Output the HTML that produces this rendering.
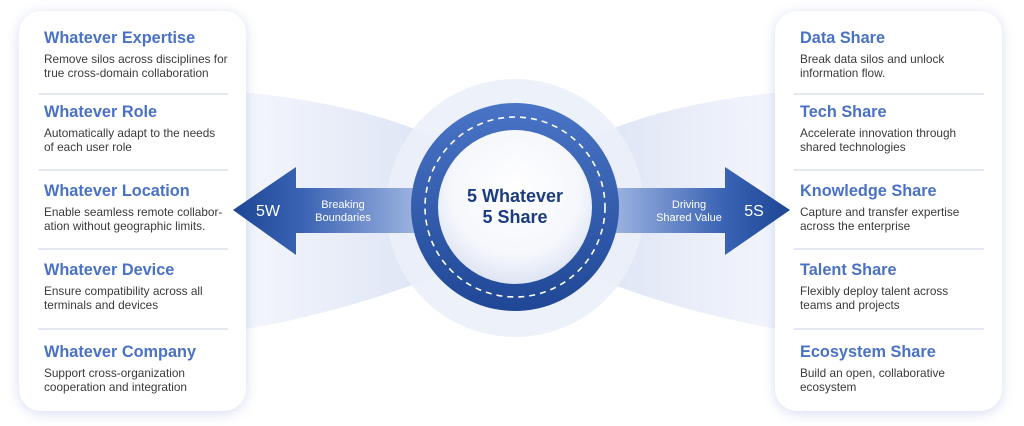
<!DOCTYPE html>
<html><head><meta charset="utf-8"><style>
html,body{margin:0;padding:0;background:#fff;}
body{width:1024px;height:426px;position:relative;overflow:hidden;font-family:"Liberation Sans",sans-serif;}
svg{position:absolute;left:0;top:0;}
.card{position:absolute;top:11px;width:227px;height:400px;background:#fff;border-radius:22px;box-shadow:0 2px 12px rgba(90,120,200,0.25);}
.it{position:absolute;left:25px;width:195px;}
.t{color:#4a72c4;font-weight:bold;font-size:16.3px;line-height:18px;white-space:nowrap;}
.d{color:#3a3a3a;font-size:11.8px;line-height:13.5px;margin-top:6px;white-space:nowrap;}
.hr{position:absolute;left:19px;width:190px;height:2px;background:#e3e8f3;}
</style></head><body>
<svg width="1024" height="426" viewBox="0 0 1024 426">
<defs>
<linearGradient id="bandL" x1="0" x2="1" y1="0" y2="0"><stop offset="0" stop-color="#f4f6fc"/><stop offset="1" stop-color="#dce4f4"/></linearGradient>
<linearGradient id="bandR" x1="1" x2="0" y1="0" y2="0"><stop offset="0" stop-color="#f4f6fc"/><stop offset="1" stop-color="#dce4f4"/></linearGradient>
</defs>
<path d="M240 92 C330 100 400 120 440 140 L440 275 C400 290 330 315 240 330 Z" fill="url(#bandL)"/>
<path d="M784 92 C694 100 624 120 590 140 L590 275 C624 290 694 315 784 330 Z" fill="url(#bandR)"/>
<circle cx="515" cy="208" r="129" fill="#ebf0fa" opacity="0.9"/>
</svg>
<div class="card" style="left:19px">
<div class="it" style="top:18px"><div class="t">Whatever Expertise</div><div class="d">Remove silos across disciplines for<br>true cross-domain collaboration</div></div>
<div class="hr" style="top:82px"></div>
<div class="it" style="top:92px"><div class="t">Whatever Role</div><div class="d">Automatically adapt to the needs<br>of each user role</div></div>
<div class="hr" style="top:158px"></div>
<div class="it" style="top:171px"><div class="t">Whatever Location</div><div class="d">Enable seamless remote collabor-<br>ation without geographic limits.</div></div>
<div class="hr" style="top:237px"></div>
<div class="it" style="top:250px"><div class="t">Whatever Device</div><div class="d">Ensure compatibility across all<br>terminals and devices</div></div>
<div class="hr" style="top:317px"></div>
<div class="it" style="top:332px"><div class="t">Whatever Company</div><div class="d">Support cross-organization<br>cooperation and integration</div></div>
</div>
<div class="card" style="left:775px">
<div class="it" style="top:18px"><div class="t">Data Share</div><div class="d">Break data silos and unlock<br>information flow.</div></div>
<div class="hr" style="top:82px"></div>
<div class="it" style="top:92px"><div class="t">Tech Share</div><div class="d">Accelerate innovation through<br>shared technologies</div></div>
<div class="hr" style="top:158px"></div>
<div class="it" style="top:171px"><div class="t">Knowledge Share</div><div class="d">Capture and transfer expertise<br>across the enterprise</div></div>
<div class="hr" style="top:237px"></div>
<div class="it" style="top:250px"><div class="t">Talent Share</div><div class="d">Flexibly deploy talent across<br>teams and projects</div></div>
<div class="hr" style="top:317px"></div>
<div class="it" style="top:332px"><div class="t">Ecosystem Share</div><div class="d">Build an open, collaborative<br>ecosystem</div></div>
</div>
<svg width="1024" height="426" viewBox="0 0 1024 426">
<defs>
<linearGradient id="arL" x1="0" x2="1"><stop offset="0" stop-color="#1d4694"/><stop offset="0.35" stop-color="#3a63b4"/><stop offset="1" stop-color="#a9bde6"/></linearGradient>
<linearGradient id="arR" x1="1" x2="0"><stop offset="0" stop-color="#1d4694"/><stop offset="0.35" stop-color="#3a63b4"/><stop offset="1" stop-color="#a9bde6"/></linearGradient>
<linearGradient id="ring" x1="0" y1="0" x2="0" y2="1"><stop offset="0" stop-color="#4a74c6"/><stop offset="1" stop-color="#1f4796"/></linearGradient>
<radialGradient id="inner" cx="0.5" cy="0.4" r="0.6"><stop offset="0" stop-color="#ffffff"/><stop offset="0.7" stop-color="#f5f7fc"/><stop offset="1" stop-color="#dde4f3"/></radialGradient>
</defs>
<path d="M233 210 L296 167 L296 188 L430 188 L430 233 L296 233 L296 255 Z" fill="url(#arL)"/>
<path d="M790 210 L725 167 L725 188 L600 188 L600 233 L725 233 L725 255 Z" fill="url(#arR)"/>
<circle cx="515" cy="207" r="104" fill="url(#ring)"/>
<circle cx="515" cy="207" r="90" fill="none" stroke="#fff" stroke-width="1.6" stroke-dasharray="6 5"/>
<circle cx="515" cy="207" r="77" fill="url(#inner)"/>
<text x="515" y="202" text-anchor="middle" font-family="Liberation Sans,sans-serif" font-weight="bold" font-size="18" fill="#1c3c80">5 Whatever</text>
<text x="515" y="223" text-anchor="middle" font-family="Liberation Sans,sans-serif" font-weight="bold" font-size="18" fill="#1c3c80">5 Share</text>
<text x="268" y="216" text-anchor="middle" font-family="Liberation Sans,sans-serif" font-size="16" fill="#fff">5W</text>
<text x="343" y="208" text-anchor="middle" font-family="Liberation Sans,sans-serif" font-size="11" fill="#fff">Breaking</text>
<text x="343" y="221" text-anchor="middle" font-family="Liberation Sans,sans-serif" font-size="11" fill="#fff">Boundaries</text>
<text x="689" y="208" text-anchor="middle" font-family="Liberation Sans,sans-serif" font-size="11" fill="#fff">Driving</text>
<text x="689" y="221" text-anchor="middle" font-family="Liberation Sans,sans-serif" font-size="11" fill="#fff">Shared Value</text>
<text x="754" y="216" text-anchor="middle" font-family="Liberation Sans,sans-serif" font-size="16" fill="#fff">5S</text>
</svg>
</body></html>
